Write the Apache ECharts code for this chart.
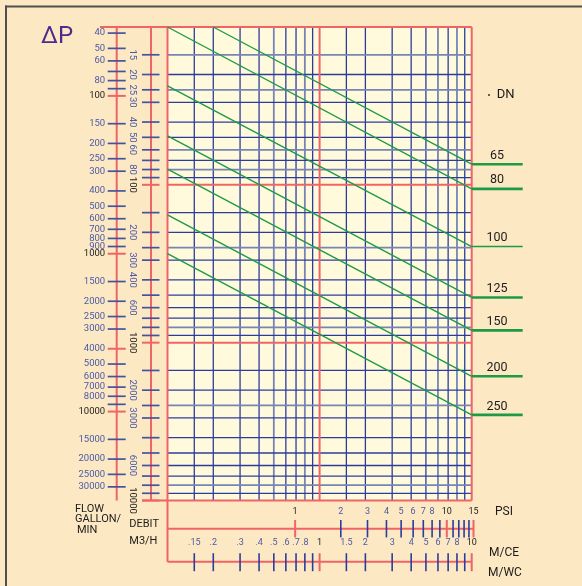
<!DOCTYPE html>
<html>
<head>
<meta charset="utf-8">
<script src="https://cdn.jsdelivr.net/npm/echarts@6/dist/echarts.min.js"></script>
<style>
  html, body { margin: 0; padding: 0; background: #FDE8C4; }
  #chart { width: 582px; height: 586px; }
</style>
</head>
<body>
<div id="chart"></div>
<script>
// --- data ---
// pressure drop, metres of water column (bottom scale + vertical grid)
const mceTicks = [0.15, 0.2, 0.3, 0.4, 0.5, 0.6, 0.7, 0.8, 0.9, 1, 1.5, 2, 3, 4, 5, 6, 7, 8, 9, 10];
const mceLabels = [0.15, 0.2, 0.3, 0.4, 0.5, 0.6, 0.7, 0.8, 1, 1.5, 2, 3, 4, 5, 6, 7, 8, 10];
// pressure drop, PSI
const psiTicks = [1, 2, 3, 4, 5, 6, 7, 8, 9, 10, 11, 12, 13, 14, 15];
const psiLabels = [1, 2, 3, 4, 5, 6, 7, 8, 10, 15];
const psiRange = [0.144, 15];
// flow m3/h (inner left scale + horizontal grid)
const m3hTicks = [15, 20, 25, 30, 40, 50, 60, 70, 80, 90, 100, 150, 200, 250, 300, 400, 500, 600, 700, 800, 900,
  1000, 1500, 2000, 2500, 3000, 4000, 5000, 6000, 7000, 8000, 9000, 10000];
const m3hLabels = [15, 20, 25, 30, 40, 50, 60, 80, 100, 200, 300, 400, 600, 1000, 2000, 3000, 6000, 10000];
// flow gallon/min (outer left scale)
const gpmTicks = [40, 50, 60, 70, 80, 90, 100, 150, 200, 250, 300, 400, 500, 600, 700, 800, 900, 1000, 1500, 2000,
  2500, 3000, 4000, 5000, 6000, 7000, 8000, 9000, 10000, 15000, 20000, 25000, 30000];
const gpmLabels = [40, 50, 60, 80, 100, 150, 200, 250, 300, 400, 500, 600, 700, 800, 900, 1000, 1500, 2000, 2500,
  3000, 4000, 5000, 6000, 7000, 8000, 10000, 15000, 20000, 25000, 30000];
const gpmRange = [36.6, 36600];
const gpmRed = [100, 1000, 4000, 10000];
// DN curves: [m water column, m3/h] at both ends
const dnNames = ['65', '80', '100', '125', '150', '200', '250'];
const dnStart = [[0.2, 10], [0.1, 10], [0.1, 23.6], [0.1, 49], [0.1, 79.6], [0.1, 155], [0.1, 273]];
const dnEnd = [[10, 74], [10, 106], [10, 246], [10, 517], [10, 836], [10, 1634], [10, 2868]];

// --- look ---
const RED = '#F06466', BLUE = '#2C3C9E', SOFT = '#7784B6', GREEN = '#1E9A46';
const TICK = '#4353A0', TXT = '#4A5AA6', DARK = '#1c1c1c';
const FONT = 'Roboto, "Noto Sans", sans-serif';
const softM = [0.5, 0.8, 6, 8];
const softQ = [15, 25, 60, 80, 250, 800, 2500, 8000];

// layout
const PLOT = { left: 167.5, top: 27, width: 304.2, height: 473.5 };
const plotRight = PLOT.left + PLOT.width;
const GPM_X = 116.7, M3H_X = 151, M3H_LABEL_X = 132;
const PSI_Y = 528.7, PSI_RIGHT = 473.5, MCE_Y = 561.7, LEG_END = 522.7;

function seg(x1, y1, x2, y2, color, w) {
  return { type: 'line', shape: { x1, y1, x2, y2 }, style: { stroke: color, lineWidth: w } };
}
function label(x, y, text, color, size, align, rot) {
  return {
    type: 'text', x, y, rotation: rot || 0,
    style: { text, fill: color, fontSize: size, fontFamily: FONT, align: align || 'center', verticalAlign: 'middle' }
  };
}
const shortNum = v => (v < 1 ? String(v).slice(1) : String(v));

const series = [];

// vertical grid lines
series.push({
  type: 'custom', xAxisIndex: 0, yAxisIndex: 0, z: 1, silent: true,
  data: mceTicks.filter(v => v !== 1 && v !== 10).map(v => [v, 10]),
  renderItem: (params, api) => {
    const v = api.value(0);
    const a = api.coord([v, 10]), b = api.coord([v, 10000]);
    const soft = softM.includes(v);
    return seg(a[0], a[1], b[0], b[1], soft ? SOFT : BLUE, soft ? 1.8 : 1.3);
  }
});
// horizontal grid lines
series.push({
  type: 'custom', xAxisIndex: 0, yAxisIndex: 0, z: 1, silent: true,
  data: m3hTicks.filter(v => v !== 100 && v !== 1000 && v !== 10000).map(v => [0.1, v]),
  renderItem: (params, api) => {
    const q = api.value(1);
    const a = api.coord([0.1, q]), b = api.coord([10, q]);
    const soft = softQ.includes(q);
    return seg(a[0], a[1], b[0], b[1], soft ? SOFT : BLUE, soft ? 1.8 : 1.3);
  }
});
// red frame and decade lines
series.push({
  type: 'custom', xAxisIndex: 0, yAxisIndex: 0, z: 3, silent: true,
  data: [[0.1, 10], [1, 10], [10, 10]],
  renderItem: (params, api) => {
    const v = api.value(0);
    const a = api.coord([v, 10]), b = api.coord([v, 10000]);
    return seg(a[0], a[1], b[0], v === 0.1 ? MCE_Y : b[1], RED, 2);
  }
});
series.push({
  type: 'custom', xAxisIndex: 0, yAxisIndex: 0, z: 3, silent: true,
  data: [[0.1, 10], [0.1, 100], [0.1, 1000], [0.1, 10000]],
  renderItem: (params, api) => {
    const q = api.value(1);
    const a = api.coord([0.1, q]), b = api.coord([10, q]);
    let x1 = a[0];
    if (q === 10) x1 = 100;
    if (q === 10000) x1 = M3H_X - 9;
    return seg(x1, a[1], b[0], b[1], RED, 2);
  }
});

// DN curves
dnNames.forEach((name, i) => {
  series.push({
    type: 'line', xAxisIndex: 0, yAxisIndex: 0, z: 4, silent: true,
    symbol: 'none', data: [dnStart[i], dnEnd[i]],
    lineStyle: { color: GREEN, width: 1.4 }
  });
});
// DN leader + label
series.push({
  type: 'custom', xAxisIndex: 0, yAxisIndex: 0, z: 4, silent: true,
  data: dnEnd,
  renderItem: (params, api) => {
    const p = api.coord([api.value(0), api.value(1)]);
    const name = dnNames[params.dataIndex];
    return {
      type: 'group', children: [
        seg(p[0], p[1], LEG_END, p[1], GREEN, name === '100' ? 1.4 : 2.6),
        label(497, p[1] - 8.5, name, DARK, 12.5)
      ]
    };
  }
});

// m3/h scale
series.push({
  type: 'custom', xAxisIndex: 0, yAxisIndex: 0, z: 3, silent: true,
  data: m3hTicks.map(v => [0.1, v]),
  renderItem: (params, api) => {
    const q = api.value(1);
    const y = api.coord([0.1, q])[1];
    const major = q === 100 || q === 1000 || q === 10000;
    const kids = [];
    if (params.dataIndex === 0) {
      kids.push(seg(M3H_X, api.coord([0.1, 10])[1], M3H_X, api.coord([0.1, 10000])[1], RED, 2));
    }
    kids.push(seg(M3H_X - 9, y, M3H_X + 8.5, y, major ? RED : TICK, major ? 2 : 1.7));
    if (m3hLabels.includes(q)) {
      kids.push(label(M3H_LABEL_X, y, String(q), major ? DARK : TXT, 9.5, 'center', -Math.PI / 2));
    }
    return { type: 'group', children: kids };
  }
});

// gallon/min scale
series.push({
  type: 'custom', xAxisIndex: 1, yAxisIndex: 1, z: 3, silent: true,
  data: gpmTicks.map(v => [0.5, v]),
  renderItem: (params, api) => {
    const g = api.value(1);
    const y = api.coord([0.5, g])[1];
    const red = gpmRed.includes(g);
    const black = g === 100 || g === 1000 || g === 10000;
    const kids = [];
    if (params.dataIndex === 0) {
      kids.push(seg(GPM_X, api.coord([0.5, gpmRange[0]])[1], GPM_X, api.coord([0.5, gpmRange[1]])[1], RED, 2));
    }
    kids.push(seg(GPM_X - 9, y, GPM_X + 9, y, red ? RED : TICK, red ? 2 : 1.7));
    if (gpmLabels.includes(g)) {
      kids.push(label(GPM_X - 11.5, y, String(g), black ? DARK : TXT, 9.5, 'right'));
    }
    return { type: 'group', children: kids };
  }
});

// PSI scale
series.push({
  type: 'custom', xAxisIndex: 2, yAxisIndex: 2, z: 3, silent: true,
  data: psiTicks.map(v => [v, 0.5]),
  renderItem: (params, api) => {
    const v = api.value(0);
    const x = api.coord([v, 0.5])[0];
    const red = v === 1 || v === 10 || v === 15;
    const kids = [];
    if (params.dataIndex === 0) {
      kids.push(seg(api.coord([psiRange[0], 0.5])[0], PSI_Y, api.coord([psiRange[1], 0.5])[0], PSI_Y, RED, 2));
    }
    kids.push(seg(x, PSI_Y - 8.7, x, PSI_Y + 8.7, red ? RED : BLUE, red ? 2 : 1.6));
    if (psiLabels.includes(v)) {
      kids.push(label(x, PSI_Y - 16.5, String(v), red ? DARK : TXT, 9));
    }
    return { type: 'group', children: kids };
  }
});

// M/CE scale
series.push({
  type: 'custom', xAxisIndex: 0, yAxisIndex: 0, z: 3, silent: true,
  data: mceTicks.map(v => [v, 10]),
  renderItem: (params, api) => {
    const v = api.value(0);
    const x = api.coord([v, 10])[0];
    const red = v === 1 || v === 10;
    const kids = [];
    if (params.dataIndex === 0) {
      kids.push(seg(api.coord([0.1, 10])[0], MCE_Y, api.coord([10, 10])[0], MCE_Y, RED, 2));
    }
    kids.push(seg(x, MCE_Y - 8.5, x, MCE_Y + 9.5, red ? RED : BLUE, red ? 2 : 1.6));
    if (mceLabels.includes(v)) {
      kids.push(label(x, MCE_Y - 18.5, shortNum(v), red ? DARK : TXT, 9));
    }
    return { type: 'group', children: kids };
  }
});

const chart = echarts.init(document.getElementById('chart'));
chart.setOption({
  animation: false,
  backgroundColor: '#FDE8C4',
  grid: [
    { left: PLOT.left, top: PLOT.top, width: PLOT.width, height: PLOT.height, show: true,
      backgroundColor: '#FFFADC', borderWidth: 0, outerBoundsMode: 'none' },
    { left: GPM_X - 9, top: PLOT.top, width: 18, height: PLOT.height, outerBoundsMode: 'none' },
    { left: PLOT.left, top: PSI_Y - 9, width: PSI_RIGHT - PLOT.left, height: 18, outerBoundsMode: 'none' }
  ],
  xAxis: [
    { gridIndex: 0, type: 'log', logBase: 10, min: 0.1, max: 10, show: false },
    { gridIndex: 1, type: 'value', min: 0, max: 1, show: false },
    { gridIndex: 2, type: 'log', logBase: 10, min: psiRange[0], max: psiRange[1], show: false }
  ],
  yAxis: [
    { gridIndex: 0, type: 'log', logBase: 10, min: 10, max: 10000, inverse: true, show: false },
    { gridIndex: 1, type: 'log', logBase: 10, min: gpmRange[0], max: gpmRange[1], inverse: true, show: false },
    { gridIndex: 2, type: 'value', min: 0, max: 1, show: false }
  ],
  graphic: [
    { type: 'line', shape: { x1: 5, y1: 6.5, x2: 582, y2: 6.5 }, style: { stroke: '#505050', lineWidth: 2 } },
    { type: 'line', shape: { x1: 6, y1: 5.5, x2: 6, y2: 586 }, style: { stroke: '#505050', lineWidth: 2 } },
    { type: 'text', x: 57, y: 37, style: { text: 'ΔP', fill: '#4B2C8C', fontSize: 24, fontFamily: FONT, align: 'center', verticalAlign: 'middle' } },
    { type: 'text', x: 75, y: 509, style: { text: 'FLOW', fill: DARK, fontSize: 11, fontFamily: FONT, verticalAlign: 'middle' } },
    { type: 'text', x: 75, y: 519.7, style: { text: 'GALLON/', fill: DARK, fontSize: 11, fontFamily: FONT, verticalAlign: 'middle' } },
    { type: 'text', x: 77, y: 530.3, style: { text: 'MIN', fill: DARK, fontSize: 11, fontFamily: FONT, verticalAlign: 'middle' } },
    { type: 'text', x: 129.3, y: 524.3, style: { text: 'DEBIT', fill: DARK, fontSize: 11, fontFamily: FONT, verticalAlign: 'middle' } },
    { type: 'text', x: 129.3, y: 541, style: { text: 'M3/H', fill: DARK, fontSize: 11, fontFamily: FONT, verticalAlign: 'middle' } },
    { type: 'text', x: 495, y: 512.3, style: { text: 'PSI', fill: DARK, fontSize: 12, fontFamily: FONT, verticalAlign: 'middle' } },
    { type: 'text', x: 489, y: 552.7, style: { text: 'M/CE', fill: DARK, fontSize: 12, fontFamily: FONT, verticalAlign: 'middle' } },
    { type: 'text', x: 488, y: 572.7, style: { text: 'M/WC', fill: DARK, fontSize: 12, fontFamily: FONT, verticalAlign: 'middle' } },
    { type: 'circle', shape: { cx: 489, cy: 95, r: 0.9 }, style: { fill: DARK } },
    { type: 'text', x: 496.7, y: 95, style: { text: 'DN', fill: DARK, fontSize: 13, fontFamily: FONT, verticalAlign: 'middle' } }
  ],
  series: series
});
</script>
</body>
</html>
